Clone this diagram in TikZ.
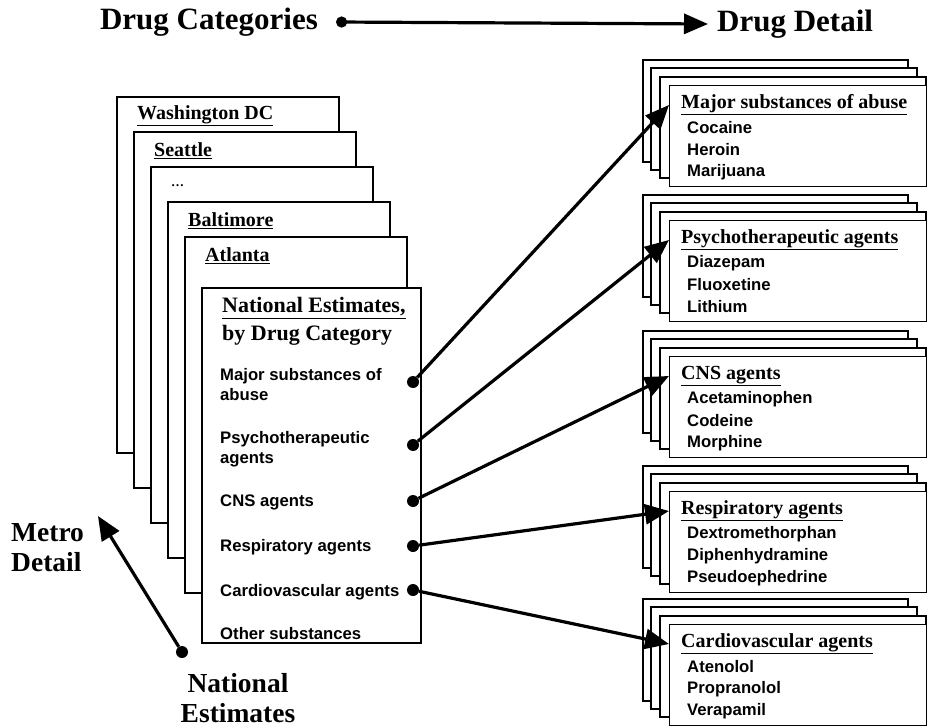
\documentclass[tikz,border=0pt]{standalone}
\usepackage{fontspec}
\setmainfont{Liberation Serif}
\setsansfont{Liberation Sans}
\usetikzlibrary{arrows.meta}

\tikzset{
	card/.style={draw, fill=white, line width=1.4pt, inner sep=0pt},
	title/.style={font=\bfseries\fontsize{31}{33}\selectfont, inner sep=1pt},
	label/.style={font=\bfseries\fontsize{27.5}{30}\selectfont, inner sep=1pt},
	city/.style={font=\bfseries\fontsize{20}{24}\selectfont, inner sep=1pt, anchor=west},
	head/.style={font=\bfseries\fontsize{22}{26}\selectfont, inner sep=1pt, anchor=west},
	drughead/.style={font=\bfseries\fontsize{20}{24}\selectfont, inner sep=1pt, anchor=west},
	item/.style={font=\sffamily\bfseries\fontsize{16.7}{20}\selectfont, inner sep=1pt, anchor=west, align=left},
	dot/.style={circle, fill=black, inner sep=0pt, minimum size=12pt},
	link/.style={line width=3.2pt, -{Triangle[length=24pt,width=20pt]}},
	dotlink/.style={line width=3.2pt, {Circle[length=11pt]}-{Triangle[length=24pt,width=20pt]}}
}

\begin{document}
\begin{tikzpicture}[x=1pt,y=-1pt]
	\useasboundingbox (0,0) rectangle (928,727);

	\node[title] (cat) at (209,22) {Drug Categories};
	\node[title, anchor=west] (det) at (716,24) {Drug Detail};
	\coordinate (catdot) at ([xshift=17pt]cat.east);
	\coordinate (dettip) at ([xshift=-8pt]det.west);
	\draw[dotlink] (catdot) -- (dettip);

	\foreach \i/\name in {0/{\underline{Washington DC}},1/{\underline{Seattle}},2/{\fontsize{13}{15}\selectfont\ldots},3/{\underline{Baltimore}},4/{\underline{Atlanta}}}
	{
		\draw[card] (117+17*\i,97+35*\i) rectangle (339+17*\i,453+35*\i);
		\node[city] (c\i) at (136+17*\i,116+35*\i) {\name};
	}
	\draw[card] (202,288) rectangle (421,643);
	\node[head] (nat1) at (221,308) {\underline{National Estimates,}};
	\node[head] (nat2) at (221,335) {by Drug Category};

	\foreach \i/\y/\dy/\txt in {1/385/382/{Major substances of\\abuse},2/449/445/{Psychotherapeutic\\agents},3/502/501/{CNS agents},4/547/546/{Respiratory agents},5/592/590/{Cardiovascular agents}}
	{
		\node[item] (n\i) at (219,\y) {\txt};
		\node[dot] (d\i) at (413,\dy) {};
	}
	\node[item] (n6) at (219,634) {Other substances};

	\foreach \k/\T/\hd/\a/\b/\c in {1/60/Major substances of abuse/Cocaine/Heroin/Marijuana,2/195/Psychotherapeutic agents/Diazepam/Fluoxetine/Lithium,3/331/CNS agents/Acetaminophen/Codeine/Morphine,4/466/Respiratory agents/Dextromethorphan/Diphenhydramine/Pseudoephedrine,5/599/Cardiovascular agents/Atenolol/Propranolol/Verapamil}
	{
		\draw[card] (643,\T) rectangle (908,\T+102);
		\draw[card] (651,\T+8) rectangle (917,\T+110);
		\draw[card] (660,\T+17) rectangle (926,\T+118);
		\node[card, anchor=north west, minimum width=257pt, minimum height=101pt] (f\k) at (669,\T+25) {};
		\node[drughead] (h\k) at (680,\T+45) {\underline{\hd}};
		\node[item] (a\k) at (686,\T+68) {\a};
		\node[item] (b\k) at (686,\T+90) {\b};
		\node[item] (x\k) at (686,\T+112) {\c};
		\draw[link] (d\k) -- (f\k.west |- h\k);
	}

	\node[label, align=left, anchor=west] (metro) at (10,548) {Metro\\Detail};
	\node[label, align=center] (nat) at (238,698) {National\\Estimates};
	\node[dot] (natdot) at (182,652) {};
	\coordinate (metrotip) at (98,516);
	\draw[link] (natdot) -- (metrotip);
\end{tikzpicture}
\end{document}
